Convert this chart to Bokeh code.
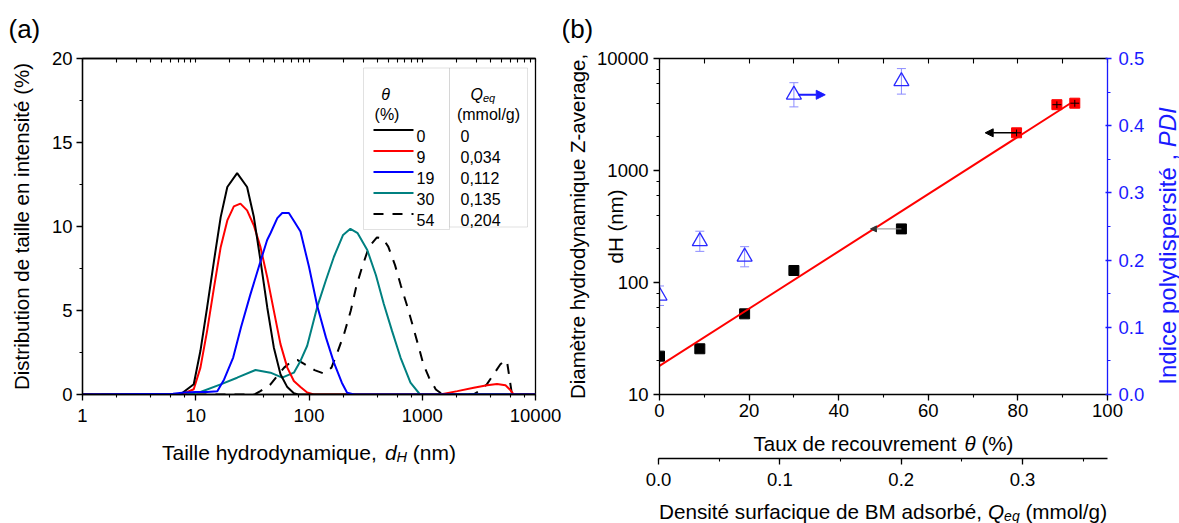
import numpy as np
from math import pi
from bokeh.plotting import figure
from bokeh.models import (Range1d, LinearAxis, LogAxis, SingleIntervalTicker, LogTicker, FixedTicker,
                          NumeralTickFormatter, PrintfTickFormatter, Label, BoxAnnotation, Title,
                          Arrow, NormalHead, Whisker, TeeHead, ColumnDataSource, LinearScale)
from bokeh.layouts import row, column
from bokeh.embed import file_html
from bokeh.resources import INLINE

FONT = "Liberation Sans"
TICK_FS = "18.5px"
LABEL_FS = "20.5px"

# ---------------- panel (a) : DLS intensity distributions ----------------
size_0 = [1, 7.3, 9.6, 11.0, 12.6, 14.5, 16.6, 19.0, 23.2, 28.4, 32.6, 37.3, 42.8, 48.9, 56.0, 64.3, 73.5, 80, 10000]
dist_0 = [0, 0, 0.61, 2.6, 5.18, 7.97, 10.56, 12.35, 13.18, 12.35, 10.56, 7.97, 5.18, 2.8, 1.2, 0.44, 0.08, 0, 0]

size_9 = [1, 7.5, 9.6, 11.0, 12.6, 14.5, 16.6, 19.0, 21.7, 24.8, 28.4, 32.6, 37.3, 42.8, 48.9, 56.0, 64.3,
          73.5, 84.1, 96.4, 110, 1445, 2042, 2851, 3741, 4571, 5433, 6026, 6427, 10000]
dist_9 = [0, 0, 0.31, 1.6, 3.79, 6.38, 8.77, 10.36, 11.2, 11.36, 10.96, 10.06, 8.77, 6.97, 4.99, 3.0, 1.6,
          0.8, 0.45, 0.12, 0, 0, 0.2, 0.4, 0.55, 0.62, 0.55, 0.25, 0, 0]

size_19 = [1, 6.31, 7.94, 10, 12.6, 15.5, 17.8, 21.4, 25.1, 30.2, 37.2, 42.7, 45.7, 52.5, 58.0, 66.4, 74.1,
           84.1, 100, 118, 141, 166, 195, 217, 251, 10000]
dist_19 = [0, 0.05, 0.12, 0.15, 0.15, 0.2, 0.9, 2.2, 4.0, 5.9, 7.9, 9.2, 9.6, 10.5, 10.8, 10.8, 10.3,
           9.7, 7.6, 5.3, 3.4, 1.9, 0.7, 0.1, 0, 0]

size_30 = [1, 8, 11.0, 16.6, 23.2, 33.7, 45.7, 58.0, 73.5, 84.1, 96.4, 118, 141, 166, 200, 232, 269, 327,
           390, 457, 540, 643, 787, 955, 10000]
dist_30 = [0, 0, 0.15, 0.6, 1.0, 1.46, 1.3, 1.0, 1.3, 2.0, 2.9, 5.2, 6.8, 8.2, 9.5, 9.86, 9.6, 8.6,
           7.1, 5.4, 3.8, 2.2, 0.7, 0, 0]

size_54 = [1, 33, 37.2, 45.7, 53.7, 60.3, 70.8, 79.4, 89.1, 112, 135, 158, 178, 204, 234, 263, 295, 339,
           398, 447, 501, 575, 646, 741, 832, 933, 1023, 1148, 1318, 1514, 2818, 3162, 3715, 4365, 4898,
           5433, 5623, 6166, 6310, 10000]
dist_54 = [0, 0, 0.2, 0.6, 1.2, 1.6, 2.0, 2.05, 1.85, 1.45, 1.25, 1.6, 2.5, 3.6, 5.0, 6.5, 7.6, 8.8,
           9.35, 9.3, 8.8, 7.7, 6.5, 5.2, 4.0, 2.8, 1.8, 1.0, 0.3, 0, 0, 0.2, 0.6, 1.3, 1.8,
           2.05, 1.9, 0.1, 0, 0]

legend_theta = ["0", "9", "19", "30", "54"]
legend_qeq = ["0", "0,034", "0,112", "0,135", "0,204"]
legend_colors = ["black", "red", "blue", "#008080", "black"]
legend_dash = ["solid", "solid", "solid", "solid", "10 9"]

# ---------------- panel (b) : Z-average size and PDI ----------------
theta_black = [0, 9, 19, 30, 54]
dh_black = [22.0, 25.6, 52.5, 128, 301]
theta_red = [79.7, 88.7, 92.7]
dh_red = [2170, 3870, 3990]
theta_red_err = [1.0, 1.0, 1.0]
dh_red_err = [150, 270, 280]

theta_pdi = [0, 9, 19, 30, 54]
pdi = [0.147, 0.228, 0.205, 0.446, 0.466]
pdi_err = [0.0145, 0.015, 0.015, 0.018, 0.019]

Q_AXIS_MAX = 0.37   # Q_eq value at the right end (theta = 100 %)

# ---------------- text helpers ----------------
W = {' ': 278, '(': 333, ')': 333, ',': 278, '-': 333, '.': 278, '/': 278, '%': 889,
     'A': 667, 'B': 667, 'C': 722, 'D': 722, 'E': 667, 'F': 611, 'G': 778, 'H': 722, 'I': 278,
     'M': 833, 'P': 667, 'Q': 778, 'T': 611, 'Z': 611,
     'a': 556, 'b': 556, 'c': 500, 'd': 556, 'e': 556, 'f': 278, 'g': 556, 'h': 556, 'i': 222,
     'j': 222, 'k': 500, 'l': 222, 'm': 833, 'n': 556, 'o': 556, 'p': 556, 'q': 556, 'r': 333,
     's': 500, 't': 278, 'u': 556, 'v': 500, 'w': 722, 'x': 500, 'y': 500, 'z': 500,
     'é': 556, 'è': 556, 'θ': 556}


def tw(s, size):
    return sum(W.get(c, 556) for c in s) * size / 1000.0


def plain(fig, text, x, y, size, style="normal", align="left", color="black", angle=0.0):
    fig.add_layout(Label(x=x, y=y, x_units="screen", y_units="screen", text=text, angle=angle,
                         text_align=align, text_baseline="alphabetic", text_font=FONT,
                         text_font_size=f"{size}px", text_font_style=style, text_color=color))


def rich(fig, pieces, x, y, angle=0.0, color="black"):
    """pieces: (text, size px, style, baseline shift px); (x, y) = centre of the baseline."""
    total = sum(tw(t, sz) for t, sz, st, dy in pieces)
    pos = -total / 2.0
    for t, sz, st, dy in pieces:
        lead = len(t) - len(t.lstrip(" "))
        off = pos + tw(" " * lead, sz)
        if angle == 0:
            plain(fig, t.strip(" "), x + off, y + dy, sz, style=st, color=color)
        else:
            plain(fig, t.strip(" "), x - dy, y + off, sz, style=st, color=color, angle=angle)
        pos += tw(t, sz)


def strip(width, height):
    """A bare figure (no axes) used to hold multi-style axis titles."""
    f = figure(width=width, height=height, x_range=Range1d(0, 1), y_range=Range1d(0, 1),
               output_backend="svg", toolbar_location=None, x_axis_location=None,
               y_axis_location=None, min_border_left=0, min_border_right=0,
               min_border_top=0, min_border_bottom=0)
    f.outline_line_color = None
    f.xgrid.visible = False
    f.ygrid.visible = False
    return f


def style_axis(ax, color="black", tick_out=6, minor_out=3, tick_in=0, minor_in=0, standoff=5):
    ax.axis_line_color = color
    ax.axis_line_width = 1.3
    ax.major_tick_line_color = color
    ax.minor_tick_line_color = color
    ax.major_tick_line_width = 1.3
    ax.minor_tick_line_width = 1.1
    ax.major_tick_out = tick_out
    ax.major_tick_in = tick_in
    ax.minor_tick_out = minor_out
    ax.minor_tick_in = minor_in
    ax.major_label_standoff = standoff
    ax.major_label_text_font = FONT
    ax.major_label_text_font_size = TICK_FS
    ax.major_label_text_color = color
    ax.axis_label_text_font = FONT
    ax.axis_label_text_font_style = "normal"
    ax.axis_label_text_font_size = LABEL_FS
    ax.axis_label_text_color = color


def panel_tag(fig, text, offset):
    fig.add_layout(Title(text=text, align="left", offset=offset, vertical_align="top", standoff=26,
                         text_font=FONT, text_font_size="26px", text_font_style="normal",
                         text_color="black"), "above")


# ======================= panel (a) =======================
pa = figure(width=563, height=430, x_axis_type="log", x_range=Range1d(1, 10000),
            y_range=Range1d(0, 20), output_backend="svg", toolbar_location=None,
            min_border_left=82, min_border_right=28, min_border_top=58, min_border_bottom=36)
pa.xgrid.visible = False
pa.ygrid.visible = False
pa.outline_line_color = "black"
pa.outline_line_width = 1.3

pa.xaxis.ticker = LogTicker()
pa.xaxis.formatter = NumeralTickFormatter(format="0")
style_axis(pa.xaxis[0], standoff=8)
pa.yaxis.ticker = SingleIntervalTicker(interval=5, num_minor_ticks=2)
style_axis(pa.yaxis[0], standoff=4)
pa.yaxis.axis_label = "Distribution de taille en intensité (%)"
pa.yaxis.axis_label_standoff = 16

decade_minor = [m * 10 ** k for k in range(4) for m in range(1, 10)] + [10000]
top_a = LogAxis(ticker=FixedTicker(ticks=[], minor_ticks=decade_minor))
style_axis(top_a, tick_out=0, minor_out=0, tick_in=0, minor_in=4)
pa.add_layout(top_a, "above")
panel_tag(pa, "(a)", -74)

pa.line(size_54, dist_54, line_color="black", line_width=2, line_dash="10 9")
pa.line(size_30, dist_30, line_color="#008080", line_width=2)
pa.line(size_9, dist_9, line_color="red", line_width=2)
pa.line(size_0, dist_0, line_color="black", line_width=2)
pa.line(size_19, dist_19, line_color="blue", line_width=2)

# table-like legend (screen units relative to the frame)
pa.add_layout(BoxAnnotation(left=281, right=367, bottom=165, top=326.5, left_units="screen",
                            right_units="screen", bottom_units="screen", top_units="screen",
                            fill_color="white", fill_alpha=1, line_color="#9a9a9a", line_width=1))
pa.add_layout(BoxAnnotation(left=367, right=445, bottom=167.5, top=326.5, left_units="screen",
                            right_units="screen", bottom_units="screen", top_units="screen",
                            fill_color="white", fill_alpha=1, line_color="#9a9a9a", line_width=1))
plain(pa, "θ", 303, 300.5, 16, style="italic", align="center")
plain(pa, "(%)", 304.5, 280.5, 16, align="center")
plain(pa, "Q", 388, 300.5, 16, style="italic")
plain(pa, "eq", 400.5, 297, 11, style="italic")
plain(pa, "(mmol/g)", 406, 280.5, 16, align="center")
for i, (th, q, c, d) in enumerate(zip(legend_theta, legend_qeq, legend_colors, legend_dash)):
    yrow = 264.5 - 21 * i
    pa.add_layout(Arrow(x_start=291, y_start=yrow, x_end=331, y_end=yrow, start_units="screen",
                        end_units="screen", end=None, line_color=c, line_width=2, line_dash=d))
    plain(pa, th, 334, yrow - 5.5, 16)
    plain(pa, q, 378, yrow - 5.5, 16)

# x title of panel (a)  (frame of this strip is aligned with the plot frame above it)
pa_x = strip(563, 93)
rich(pa_x, [("Taille hydrodynamique, ", 21, "normal", 0), ("d", 21, "italic", 0),
            ("H", 14.5, "italic", -4.5), (" (nm)", 21, "normal", 0)], 226.5, 71.3)

# ======================= panel (b) =======================
pb = figure(width=587, height=425, x_range=Range1d(0, 100), y_axis_type="log",
            y_range=Range1d(10, 10000), output_backend="svg", toolbar_location=None,
            min_border_left=95, min_border_right=43, min_border_top=58, min_border_bottom=31)
pb.extra_y_ranges = {"pdi": Range1d(0, 0.5)}
pb.extra_y_scales = {"pdi": LinearScale()}
pb.xgrid.visible = False
pb.ygrid.visible = False
pb.outline_line_color = None

pb.xaxis.ticker = SingleIntervalTicker(interval=20, num_minor_ticks=2)
style_axis(pb.xaxis[0], standoff=3)

pb.yaxis.ticker = LogTicker()
pb.yaxis.formatter = NumeralTickFormatter(format="0")
style_axis(pb.yaxis[0], standoff=5)
pb.yaxis.axis_label = "Diamètre hydrodynamique Z-average,\ndH (nm)"
pb.yaxis.axis_label_text_line_height = 1.65
pb.yaxis.axis_label_text_align = "center"
pb.yaxis.axis_label_standoff = -33

top_b = LinearAxis(ticker=FixedTicker(ticks=[], minor_ticks=list(range(0, 101, 10))))
style_axis(top_b, tick_out=0, minor_out=0, tick_in=0, minor_in=5)
pb.add_layout(top_b, "above")
panel_tag(pb, "(b)", -98)

right_b = LinearAxis(y_range_name="pdi", ticker=SingleIntervalTicker(interval=0.1, num_minor_ticks=2),
                     formatter=PrintfTickFormatter(format="%.1f"))
style_axis(right_b, color="#1a1aff", tick_out=4, tick_in=2, minor_out=3, standoff=7)
pb.add_layout(right_b, "right")

# exponential fit of all points
th_all = np.array(theta_black + theta_red, dtype=float)
dh_all = np.array(dh_black + dh_red, dtype=float)
slope, icpt = np.polyfit(th_all, np.log10(dh_all), 1)
fit_x = np.array([0.0, th_all.max()])
fit_y = 10 ** (icpt + slope * fit_x)

pb.scatter(theta_black, dh_black, marker="square", size=10, color="black")
pb.line(fit_x, fit_y, line_color="red", line_width=2)
pb.scatter(theta_red, dh_red, marker="square", size=10, color="red")
tr = np.array(theta_red)
dr = np.array(dh_red, dtype=float)
pb.segment(x0=tr - np.array(theta_red_err), x1=tr + np.array(theta_red_err), y0=dr, y1=dr,
           line_color="black", line_width=1)
pb.segment(x0=tr, x1=tr, y0=dr - np.array(dh_red_err), y1=dr + np.array(dh_red_err),
           line_color="black", line_width=1)

pdi_src = ColumnDataSource(dict(x=theta_pdi, lower=np.array(pdi) - np.array(pdi_err),
                                upper=np.array(pdi) + np.array(pdi_err)))
pb.add_layout(Whisker(source=pdi_src, base="x", lower="lower", upper="upper", dimension="height",
                      y_range_name="pdi", line_color="#8c8cff", line_width=1,
                      upper_head=TeeHead(size=9, line_color="#8c8cff", line_width=1),
                      lower_head=TeeHead(size=9, line_color="#8c8cff", line_width=1)))
pb.scatter(theta_pdi, pdi, marker="triangle", size=15, fill_color=None, line_color="#2a2aff",
           line_width=1.3, y_range_name="pdi")

# axis-indicating arrows
pb.add_layout(Arrow(x_start=theta_pdi[3] + 1.0, y_start=pdi[3], x_end=theta_pdi[3] + 7.0, y_end=pdi[3],
                    y_range_name="pdi", line_color="#1a1aff", line_width=2,
                    end=NormalHead(size=9, fill_color="#1a1aff", line_color="#1a1aff")))
pb.add_layout(Arrow(x_start=theta_red[0], y_start=dh_red[0], x_end=theta_red[0] - 7.0, y_end=dh_red[0],
                    line_color="black", line_width=1.5,
                    end=NormalHead(size=8, fill_color="black", line_color="black")))
pb.add_layout(Arrow(x_start=theta_black[4], y_start=dh_black[4], x_end=theta_black[4] - 6.9,
                    y_end=dh_black[4], line_color="#8a8a8a", line_width=1,
                    end=NormalHead(size=6, fill_color="#333333", line_color="#333333")))

# right (PDI) axis title; this strip's frame is aligned with the plot frame beside it
pr = strip(29, 425)
rich(pr, [("Indice polydispersité , ", 24, "normal", 0), ("PDI", 24, "italic", 0)],
     17, 148.5, angle=pi / 2, color="#1a1aff")

# theta axis title
pb_x = strip(616, 32)
rich(pb_x, [("Taux de recouvrement ", 20.5, "normal", 0), ("θ", 20.5, "italic", 0),
            (" (%)", 20.5, "normal", 0)], 225, 13.7)

# secondary Q_eq axis (own thin figure sharing the horizontal extent)
pq = figure(width=616, height=39, x_range=Range1d(0, Q_AXIS_MAX), y_range=Range1d(0, 1),
            output_backend="svg", toolbar_location=None, y_axis_location=None,
            min_border_left=95, min_border_right=72, min_border_top=0, min_border_bottom=38)
pq.xgrid.visible = False
pq.ygrid.visible = False
pq.outline_line_color = None
pq.xaxis.ticker = SingleIntervalTicker(interval=0.1, num_minor_ticks=2)
pq.xaxis.formatter = PrintfTickFormatter(format="%.1f")
style_axis(pq.xaxis[0], standoff=8)

pq_x = strip(616, 27)
rich(pq_x, [("Densité surfacique de BM adsorbé, ", 20.7, "normal", 0), ("Q", 20.7, "italic", 0),
            ("eq", 14, "italic", -4.2), (" (mmol/g)", 20.7, "normal", 0)], 224.5, 12)

layout = row(column(pa, pa_x, spacing=0),
             column(row(pb, pr, spacing=0), pb_x, pq, pq_x, spacing=0), spacing=0)
open("out.html", "w").write(file_html(layout, INLINE))
